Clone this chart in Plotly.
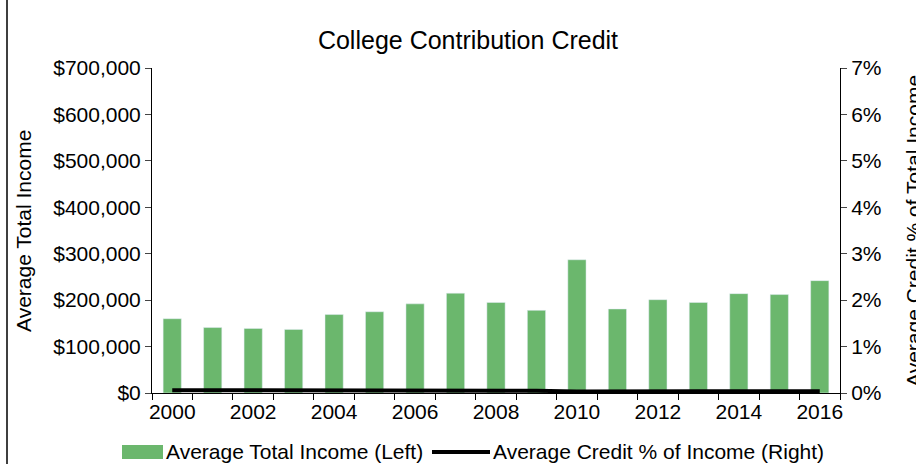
import plotly.graph_objects as go

years = list(range(2000, 2017))
avg_income = [160000, 141000, 139000, 137000, 169000, 175000, 192000, 215000, 195000,
              178000, 287000, 181000, 201000, 195000, 214000, 212000, 242000]
credit_pct = [0.0006, 0.0006, 0.0006, 0.0005, 0.0005, 0.0005, 0.0005, 0.0005, 0.0005,
              0.0005, 0.0003, 0.0004, 0.0004, 0.0004, 0.0004, 0.0004, 0.0004]

left_ticks = [0, 100000, 200000, 300000, 400000, 500000, 600000, 700000]
left_labels = ["$0", "$100,000", "$200,000", "$300,000", "$400,000", "$500,000",
               "$600,000", "$700,000"]
right_ticks = [0, 0.01, 0.02, 0.03, 0.04, 0.05, 0.06, 0.07]
x_labels = [2000, 2002, 2004, 2006, 2008, 2010, 2012, 2014, 2016]

bar_name = "Average Total Income (Left)"
line_name = "Average Credit % of Income (Right)"
bar_color = "#6bb76d"

font = "Liberation Sans, Arial, sans-serif"

W, H = 916, 464
L, R, T, B = 152, 76, 68, 71
pw, ph = W - L - R, H - T - B


def px(x):
    # pixel -> paper x
    return (x - L) / pw


def py(y):
    # pixel -> paper y
    return (H - B - y) / ph


fig = go.Figure()
fig.add_trace(go.Bar(
    x=years, y=avg_income, name=bar_name,
    marker=dict(color=bar_color), yaxis="y", showlegend=False,
))
fig.add_trace(go.Scatter(
    x=years, y=credit_pct, name=line_name,
    mode="lines", line=dict(color="black", width=4), yaxis="y2", showlegend=False,
))

# hand-made legend so the swatches look like the original
shapes = [
    dict(type="rect", xref="paper", yref="paper", x0=px(7), x1=1.4,
         y0=-0.5, y1=1.4, line=dict(color="black", width=1.5),
         fillcolor="rgba(0,0,0,0)", layer="below"),
    dict(type="rect", xref="paper", yref="paper", x0=px(122), x1=px(163),
         y0=py(459), y1=py(445), fillcolor=bar_color, line=dict(width=0)),
    dict(type="line", xref="paper", yref="paper", x0=px(432), x1=px(490),
         y0=py(452), y1=py(452), line=dict(color="black", width=4)),
]

annotations = [
    dict(text=bar_name, xref="paper", yref="paper", x=px(164), y=py(452),
         xanchor="left", yanchor="middle", showarrow=False, font=dict(size=21)),
    dict(text=line_name, xref="paper", yref="paper", x=px(491), y=py(452),
         xanchor="left", yanchor="middle", showarrow=False, font=dict(size=21)),
    dict(text="Average Total Income", xref="paper", yref="paper", x=px(24), y=py(231),
         xanchor="center", yanchor="middle", textangle=-90, showarrow=False,
         font=dict(size=21)),
    # the original crops this title at the right edge too
    dict(text="Average Credit % of Total Income", xref="paper", yref="paper",
         x=px(914), y=py(231), xanchor="center", yanchor="middle", textangle=-90,
         showarrow=False, font=dict(size=21)),
]

fig.update_layout(
    width=W, height=H,
    margin=dict(l=L, r=R, t=T, b=B, autoexpand=False),
    paper_bgcolor="white", plot_bgcolor="white",
    font=dict(family=font, size=21, color="black"),
    title=dict(text="College Contribution Credit", xref="container", x=468 / W,
               xanchor="center", y=1 - 40 / H, yanchor="middle", font=dict(size=25)),
    bargap=0.55,
    showlegend=False,
    xaxis=dict(
        range=[1999.5, 2016.5], tickmode="array", tickvals=x_labels,
        ticks="", showline=True, linecolor="black", linewidth=1,
        showgrid=False, zeroline=False, tickfont=dict(size=21), automargin=False,
        minor=dict(tick0=1999.5, dtick=1, ticks="outside", ticklen=6,
                   tickcolor="black", showgrid=False),
    ),
    yaxis=dict(
        range=[0, 700000], tickmode="array", tickvals=left_ticks, ticktext=left_labels,
        ticks="outside", ticklen=6, showline=True, linecolor="black",
        showgrid=False, zeroline=False, tickfont=dict(size=21), automargin=False,
    ),
    yaxis2=dict(
        range=[0, 0.07], overlaying="y", side="right", tickmode="array",
        tickvals=right_ticks, tickformat=".0%", ticks="outside", ticklen=6,
        showline=True, linecolor="black", showgrid=False, zeroline=False,
        tickfont=dict(size=21), automargin=False,
    ),
    shapes=shapes,
    annotations=annotations,
)

# the page's default body margin would push the chart 8px right and down
fig.write_html("out.html", config={"displayModeBar": False},
               post_script="document.body.style.margin = '0';")
